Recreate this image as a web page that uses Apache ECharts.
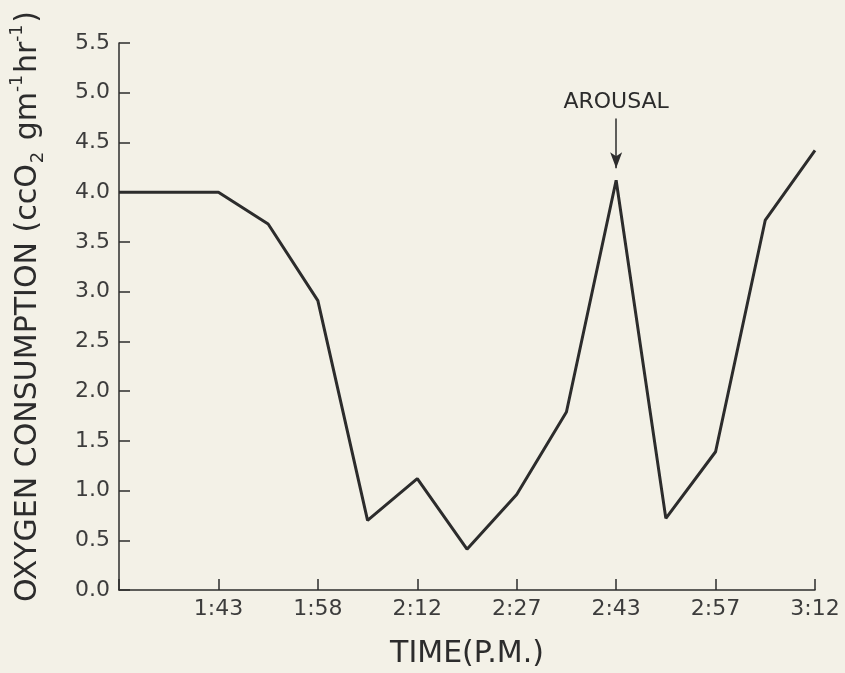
<!DOCTYPE html>
<html>
<head>
<meta charset="utf-8">
<script src="https://cdn.jsdelivr.net/npm/echarts@6/dist/echarts.min.js"></script>
<style>
  html, body { margin: 0; padding: 0; background: #f3f1e7; }
  #chart { width: 845px; height: 673px; }
</style>
</head>
<body>
<div id="chart"></div>
<script>
// x positions are in tick steps from the left end of the axis
var timeLabels = ['', '1:43', '1:58', '2:12', '2:27', '2:43', '2:57', '3:12'];
var xPos = [0, 1, 1.5, 2, 2.5, 3, 3.5, 4, 4.5, 5, 5.5, 6, 6.5, 7];
var oxygen = [4.0, 4.0, 3.68, 2.91, 0.70, 1.12, 0.41, 0.96, 1.79, 4.12, 0.72, 1.39, 3.72, 4.42];
var arousalX = 5;
var arousalArrow = [4.74, 4.24];

var chartDom = document.getElementById('chart');
var myChart = echarts.init(chartDom);
var ink = '#2c2c2c';
var font = 'DejaVu Sans';

var points = xPos.map(function (x, i) { return [x, oxygen[i]]; });

var option = {
  backgroundColor: '#f3f1e7',
  animation: false,
  grid: { left: 119, right: 30, top: 43, bottom: 83, outerBoundsMode: 'none', containLabel: false },
  xAxis: {
    type: 'value',
    min: 0,
    max: 7,
    interval: 1,
    name: 'TIME(P.M.)',
    nameLocation: 'middle',
    nameGap: 49,
    nameTextStyle: { color: ink, fontSize: 30, fontFamily: font },
    axisLine: { lineStyle: { color: ink, width: 1.5 } },
    axisTick: { inside: true, length: 11, lineStyle: { color: ink, width: 1.5 } },
    splitLine: { show: false },
    axisLabel: {
      color: '#3c3c3c', fontSize: 22, fontFamily: font, margin: 8,
      formatter: function (v) { return timeLabels[Math.round(v)]; }
    }
  },
  yAxis: {
    type: 'value',
    min: 0,
    max: 5.5,
    interval: 0.5,
    name: '{n0|OXYGEN CONSUMPTION (ccO}{sub|2}{n| gm}{sup|-1}{n|hr}{sup|-1}{n|)}',
    nameLocation: 'middle',
    nameGap: 72,
    nameRotate: 90,
    nameTextStyle: {
      color: ink, fontFamily: font,
      rich: {
        n0: { fontSize: 30, color: ink, fontFamily: font, lineHeight: 38, verticalAlign: 'middle', padding: [0, 0, 0, 20] },
        n: { fontSize: 30, color: ink, fontFamily: font, lineHeight: 38, verticalAlign: 'middle' },
        sub: { fontSize: 18, color: ink, fontFamily: font, verticalAlign: 'bottom', padding: [0, 2, 0, 1] },
        sup: { fontSize: 17, color: ink, fontFamily: font, verticalAlign: 'top', padding: [0, 2, 0, 0] }
      }
    },
    axisLine: { show: true, lineStyle: { color: ink, width: 1.5 } },
    axisTick: { show: true, inside: true, length: 11, lineStyle: { color: ink, width: 1.5 } },
    splitLine: { show: false },
    axisLabel: {
      color: '#3c3c3c', fontSize: 22, fontFamily: font, margin: 9,
      formatter: function (v) { return v.toFixed(1); }
    }
  },
  series: [
    {
      type: 'line',
      data: points,
      showSymbol: false,
      symbol: 'none',
      lineStyle: { color: ink, width: 3 },
      markLine: {
        silent: true,
        symbol: ['none', 'arrow'],
        symbolSize: [9, 16],
        lineStyle: { color: ink, width: 1.5, type: 'solid' },
        label: {
          show: true,
          position: 'start',
          formatter: 'AROUSAL',
          color: ink,
          fontSize: 22,
          fontFamily: font,
          distance: 5
        },
        data: [
          [ { coord: [arousalX, arousalArrow[0]] }, { coord: [arousalX, arousalArrow[1]] } ]
        ]
      }
    }
  ]
};

option && myChart.setOption(option);
</script>
</body>
</html>
